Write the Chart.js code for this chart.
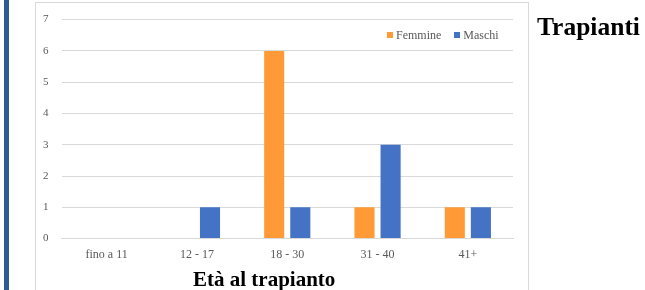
<!DOCTYPE html>
<html>
<head>
<meta charset="utf-8">
<script src="https://cdn.jsdelivr.net/npm/chart.js@4"></script>
<style>
  html, body { margin: 0; padding: 0; background: #fff; }
  #wrap { position: relative; width: 645px; height: 290px; overflow: hidden; }
  #sidebar { position: absolute; left: 4px; top: 0; width: 5px; height: 290px; background: #2f5b95; }
  #box { position: absolute; left: 35px; top: 2px; width: 492px; height: 300px; border: 1px solid #d9d9d9; }
  #chart { position: absolute; left: 0; top: 0; }
  #side-title { position: absolute; left: 537px; top: 12px; font: bold 25.5px "Liberation Serif", serif; color: #000; }
  #x-title { position: absolute; left: 193px; top: 267px; font: bold 21px "Liberation Serif", serif; color: #000; white-space: nowrap; }
  #legend { position: absolute; left: 387px; top: 28px; font: 12px "Liberation Serif", serif; color: #595959; display: flex; gap: 13px; }
  #legend span.sw { display: inline-block; width: 6px; height: 6px; margin-right: 3px; vertical-align: 1px; }
</style>
</head>
<body>
<div id="wrap">
  <div id="sidebar"></div>
  <div id="box"></div>
  <canvas id="chart" width="645" height="290"></canvas>
  <div id="legend"></div>
  <div id="side-title">Trapianti</div>
  <div id="x-title">Età al trapianto</div>
</div>
<script>
const categories = ["fino a 11", "12 - 17", "18 - 30", "31 - 40", "41+"];
const seriesNames = ["Femmine", "Maschi"];
const femmine = [0, 0, 6, 1, 1];
const maschi = [0, 1, 1, 3, 1];
const seriesColors = ["#ff9a36", "#4472c4"];

const chart = new Chart(document.getElementById("chart"), {
    type: "bar",
    data: {
        labels: categories,
        datasets: [
            {label: seriesNames[0], data: femmine, backgroundColor: seriesColors[0]},
            {label: seriesNames[1], data: maschi, backgroundColor: seriesColors[1]}
        ]
    },
    options: {
        responsive: false,
        animation: false,
        categoryPercentage: 0.578,
        barPercentage: 0.77,
        layout: {padding: {left: 30, right: 132, top: 16, bottom: 27}},
        plugins: {legend: {display: false}, tooltip: {enabled: false}},
        scales: {
            x: {
                grid: {display: false},
                border: {color: "#d9d9d9"},
                ticks: {color: "#595959", padding: 1, font: {family: "Liberation Serif", size: 12}}
            },
            y: {
                min: 0, max: 7,
                grid: {color: "#d9d9d9", drawTicks: false},
                border: {display: false},
                ticks: {stepSize: 1, color: "#595959", padding: 13, font: {family: "Liberation Serif", size: 11}}
            }
        }
    }
});

// html legend built from the datasets
const legendDiv = document.getElementById("legend");
chart.data.datasets.forEach(ds => {
    const item = document.createElement("div");
    item.innerHTML = `<span class="sw" style="background:${ds.backgroundColor}"></span>${ds.label}`;
    legendDiv.appendChild(item);
});
</script>
</body>
</html>
